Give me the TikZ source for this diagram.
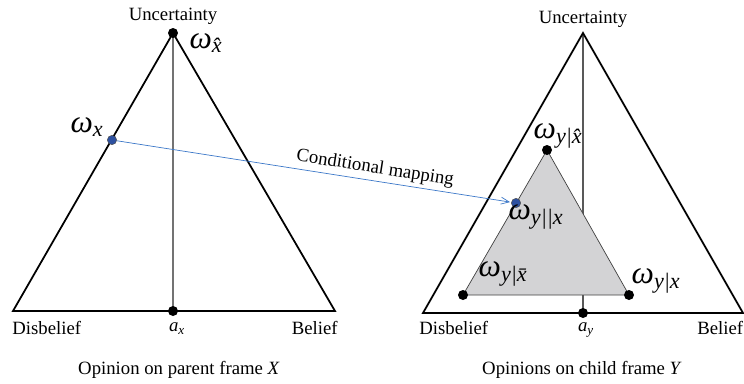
\documentclass[tikz,border=0pt]{standalone}
\usepackage{fontspec}
\setmainfont{Liberation Serif}
\usetikzlibrary{arrows.meta}

\definecolor{mapblue}{RGB}{60,120,200}
\definecolor{dotblue}{RGB}{45,80,160}
\definecolor{subgray}{RGB}{211,211,213}

\newcommand{\opn}[1]{\textit{ω}\textsubscript{\itshape #1}}

\begin{document}
\begin{tikzpicture}[x=0.03cm, y=-0.03cm,
		dot/.style={circle, fill=black, inner sep=0pt, minimum size=0.3cm},
		bluedot/.style={circle, fill=dotblue, draw=black!70, line width=0.4pt, inner sep=0pt, minimum size=0.28cm},
		lbl/.style={font=\fontsize{16}{19}\selectfont, inner sep=1pt},
		omg/.style={font=\fontsize{27}{30}\selectfont, inner sep=0pt}]
		\useasboundingbox (0, 0) rectangle (744, 383);

		% opinion triangle of the parent frame X
		\coordinate (xd) at (13, 311);
		\coordinate (xb) at (335, 311);
		\coordinate (xu) at (173, 33);
		\draw [black!55, line width=1pt] (xu) -- (173, 311);
		\draw [line width=1.5pt, line join=miter] (xd) -- (xb) -- (xu) -- cycle;

		% opinion triangle of the child frame Y
		\coordinate (yd) at (423, 313);
		\coordinate (yb) at (743, 313);
		\coordinate (yu) at (583, 33);
		\draw [black!65, line width=1pt] (yu) -- (583, 313);
		\draw [line width=1.5pt, line join=miter] (yd) -- (yb) -- (yu) -- cycle;

		% sub-triangle spanned by the conditionals
		\coordinate (cu) at (547, 150);
		\coordinate (cl) at (463, 295);
		\coordinate (cr) at (629, 295);
		\filldraw [fill=subgray, draw=black!75, line width=0.6pt] (cl) -- (cr) -- (cu) -- cycle;

		% points
		\node [dot] (ux) at (xu) {};
		\node [dot] (ax) at (173, 311) {};
		\node [dot] (ay) at (583, 313) {};
		\node [dot] (wyhx) at (cu) {};
		\node [dot] (wynx) at (cl) {};
		\node [dot] (wyx) at (cr) {};
		\node [bluedot] (wx) at (112, 140) {};
		\node [bluedot] (wyxx) at (516, 203) {};

		% the mapping
		\draw [mapblue, line width=0.6pt, -{Straight Barb[length=7pt, width=6pt]}, shorten >=1pt]
			(wx) -- node [pos=0.65, above=2pt, sloped, lbl, text=black] (cm) {Conditional mapping} (wyxx);

		% vertex labels
		\node [lbl] (ul) at (173, 16) {Uncertainty};
		\node [lbl] (ur) at (583, 19) {Uncertainty};
		\node [lbl, anchor=west] (dl) at (11, 328) {Disbelief};
		\node [lbl, anchor=east] (bl) at (339, 328) {Belief};
		\node [lbl, anchor=west] (dr) at (418, 328) {Disbelief};
		\node [lbl, anchor=west] (br) at (696, 328) {Belief};
		\node [lbl] (axl) at (177, 329) {\textit{a}\textsubscript{\itshape x}};
		\node [lbl] (ayl) at (586, 330) {\textit{a}\textsubscript{\itshape y}};

		% opinion labels
		\node [omg] (lux) at (206, 43) {\opn{\^{x}}};
		\node [omg] (lwx) at (87, 127) {\opn{x}};
		\node [omg] (lwyhx) at (558, 136) {\opn{y|\^{x}}};
		\node [omg] (lwyxx) at (536, 217) {\opn{y||x}};
		\node [omg] (lwynx) at (503, 274) {\opn{y|\={x}}};
		\node [omg] (lwyx) at (656, 281) {\opn{y|x}};

		% captions
		\node [lbl] (capx) at (179, 370) {Opinion on parent frame \textit{X}};
		\node [lbl] (capy) at (582, 370) {Opinions on child frame \textit{Y}};
	\end{tikzpicture}
\end{document}
